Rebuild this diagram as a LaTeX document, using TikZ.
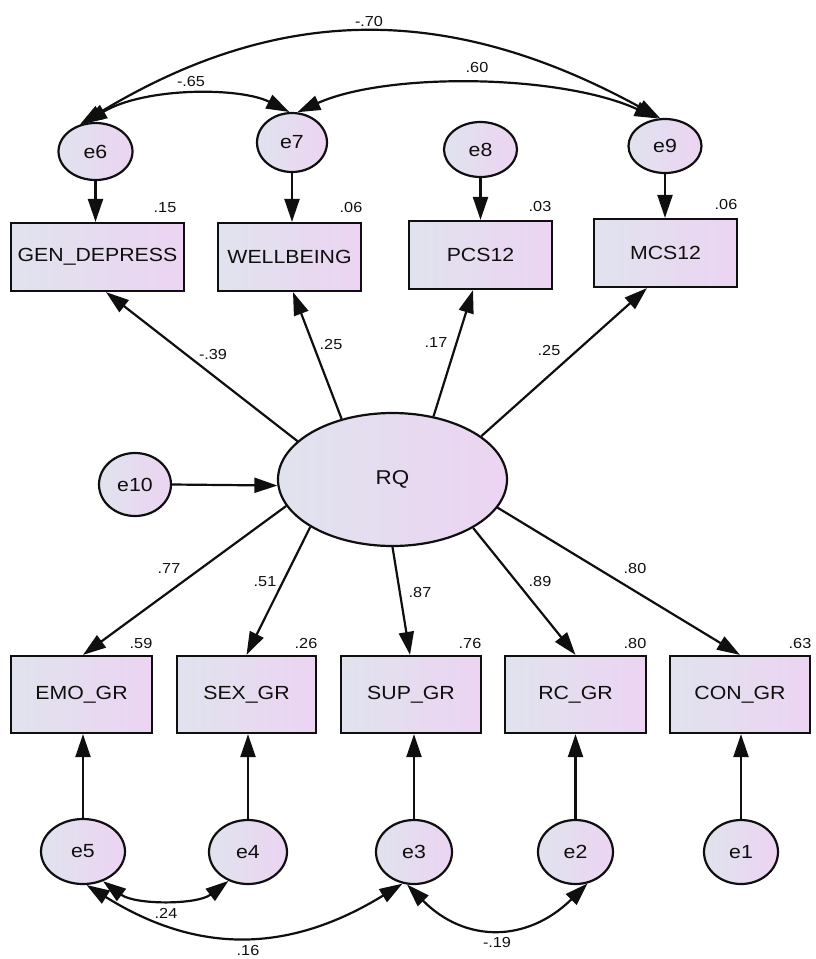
\documentclass[tikz,border=0pt]{standalone}
\usepackage{fontspec}
\setmainfont{Liberation Sans}[FakeStretch=1.12]
\usetikzlibrary{shapes.geometric,arrows.meta}

\definecolor{fillL}{RGB}{224,227,238}
\definecolor{fillR}{RGB}{236,212,242}
\definecolor{ink}{RGB}{15,15,15}

\tikzset{
  shapebase/.style={draw=ink, line width=2.2pt, left color=fillL, right color=fillR,
    inner sep=0pt, text=ink, font=\fontsize{19}{22}\selectfont},
  obsbox/.style={shapebase, rectangle},
  latent/.style={shapebase, ellipse},
  num/.style={text=ink, inner sep=0pt, font=\fontsize{14.5}{16}\selectfont},
  tipA/.tip={Triangle[length=23pt,width=15pt]},
  path/.style={draw=ink, line width=2.2pt, -tipA},
  covar/.style={draw=ink, line width=2.2pt, tipA-tipA},
}

\begin{document}
\begin{tikzpicture}[x=1pt,y=-1pt]
\useasboundingbox (0,0) rectangle (815,959);

% outcome variables (top row)
\node[obsbox, minimum width=173pt, minimum height=68pt] (gen)  at (97.5,257) {GEN\_DEPRESS};
\node[obsbox, minimum width=143pt, minimum height=68pt] (well) at (289.5,257) {WELLBEING};
\node[obsbox, minimum width=143pt, minimum height=68pt] (pcs)  at (480.5,255) {PCS12};
\node[obsbox, minimum width=143pt, minimum height=68pt] (mcs)  at (665.5,253) {MCS12};

% residuals of the outcomes
\node[latent, minimum width=74pt, minimum height=57pt] (e6) at (95.5,151.5) {e6};
\node[latent, minimum width=70pt, minimum height=59pt] (e7) at (292,142.5) {e7};
\node[latent, minimum width=73pt, minimum height=55pt] (e8) at (480.5,149.5) {e8};
\node[latent, minimum width=73pt, minimum height=54pt] (e9) at (665,146) {e9};

% latent factor and its disturbance
\node[latent, minimum width=229pt, minimum height=133pt, font=\fontsize{20}{23}\selectfont] (rq) at (392.5,479.5) {RQ};
\node[latent, minimum width=72pt, minimum height=63pt] (e10) at (135,484.5) {e10};

% indicators (bottom row)
\node[obsbox, minimum width=141pt, minimum height=77pt] (emo) at (81.5,694.5) {EMO\_GR};
\node[obsbox, minimum width=139pt, minimum height=77pt] (sex) at (246.5,694.5) {SEX\_GR};
\node[obsbox, minimum width=140pt, minimum height=77pt] (sup) at (411,694.5) {SUP\_GR};
\node[obsbox, minimum width=141pt, minimum height=77pt] (rc)  at (575.5,694.5) {RC\_GR};
\node[obsbox, minimum width=140pt, minimum height=77pt] (con) at (740,694.5) {CON\_GR};

% indicator residuals
\node[latent, minimum width=84pt, minimum height=65pt] (e5) at (83,851.5) {e5};
\node[latent, minimum width=78pt, minimum height=64pt] (e4) at (248,852) {e4};
\node[latent, minimum width=76pt, minimum height=64pt] (e3) at (414,852) {e3};
\node[latent, minimum width=75pt, minimum height=64pt] (e2) at (575.5,852) {e2};
\node[latent, minimum width=74pt, minimum height=64pt] (e1) at (741,852) {e1};

% residual paths, top
\draw[path] (e6.south) -- (e6.south |- gen.north);
\draw[path] (e7.south) -- (e7.south |- well.north);
\draw[path] (e8.south) -- (e8.south |- pcs.north);
\draw[path] (e9.south) -- (e9.south |- mcs.north);

% structural paths from RQ to outcomes
\draw[path] (rq.158.6) -- ([xshift=8.5pt]gen.south);
\draw[path] (rq.130.5) -- ([xshift=3.5pt]well.south);
\draw[path] (rq.57.5)  -- ([xshift=-7.5pt]pcs.south);
\draw[path] (rq.26.4)  -- ([xshift=-18.5pt]mcs.south);

% disturbance
\draw[path] (e10.east) -- (rq.183);

% loadings
\draw[path] (rq.194.3) -- ([xshift=1.5pt]emo.north);
\draw[path] (rq.210.9) -- (sex.north);
\draw[path] (rq.270)   -- ([xshift=-1pt]sup.north);
\draw[path] (rq.329.5) -- (rc.north);
\draw[path] (rq.345.4) -- (con.north);

% residual paths, bottom
\draw[path] (e5.north) -- (e5.north |- emo.south);
\draw[path] (e4.north) -- (e4.north |- sex.south);
\draw[path] (e3.north) -- (e3.north |- sup.south);
\draw[path] (e2.north) -- (e2.north |- rc.south);
\draw[path] (e1.north) -- (e1.north |- con.south);

% residual covariances, top
\draw[covar] (e6.120) .. controls (280,3) and (450,3) .. (e9.100);
\draw[covar] (e6.112) .. controls (145,87) and (240,87) .. (e7.95);
\draw[covar] (e7.80) .. controls (387,72) and (560,74) .. (e9.105);

% residual covariances, bottom
\draw[covar] (e5.304) .. controls (135,905) and (197,905) .. (e4.236);
\draw[covar] (e5.276) .. controls (197,954) and (288,954) .. (e3.250);
\draw[covar] (e3.258) .. controls (465,943) and (527,943) .. (e2.291);

% squared multiple correlations
\node[num] (r15) at (165,208) {.15};
\node[num] (r06a) at (351,208) {.06};
\node[num] (r03) at (540,207) {.03};
\node[num] (r06b) at (726,205) {.06};
\node[num] (r59) at (141,643) {.59};
\node[num] (r26) at (306,643) {.26};
\node[num] (r76) at (470,643) {.76};
\node[num] (r80) at (635,643) {.80};
\node[num] (r63) at (800,643) {.63};

% path coefficients
\node[num] (p39) at (213,355) {-.39};
\node[num] (p25a) at (331,345) {.25};
\node[num] (p17) at (436,343) {.17};
\node[num] (p25b) at (549,351) {.25};
\node[num] (p77) at (169,569) {.77};
\node[num] (p51) at (265,582) {.51};
\node[num] (p87) at (420,592) {.87};
\node[num] (p89) at (540,581) {.89};
\node[num] (p80) at (635,569) {.80};

% covariance values
\node[num] (c70) at (369,22) {-.70};
\node[num] (c60) at (477,68) {.60};
\node[num] (c65) at (191,82) {-.65};
\node[num] (c24) at (166,913) {.24};
\node[num] (c16) at (248,950) {.16};
\node[num] (c19) at (497,942) {-.19};
\end{tikzpicture}
\end{document}
